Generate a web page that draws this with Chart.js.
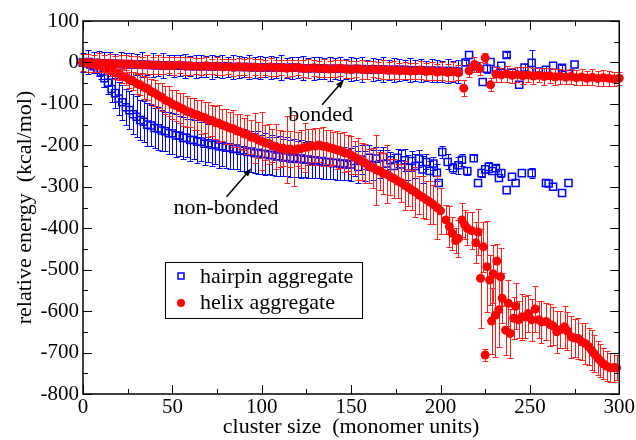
<!DOCTYPE html>
<html lang="en">
<head>
  <meta charset="UTF-8">
  <title>relative energy vs cluster size</title>
  <script src="https://cdn.jsdelivr.net/npm/chart.js"></script>
  <style>
    body { margin: 0; background: #fff; }
    #wrap { width: 636px; height: 440px; }
    #fontprobe { position: absolute; left: -999px; font-family: "Liberation Serif"; }
  </style>
</head>
<body>
  <div id="wrap"><canvas id="energyChart" width="636" height="440"></canvas></div>
  <span id="fontprobe">relative energy 0123456789</span>
  <script>
    // helix aggregate, bonded part (upper band)
    const helixBondedX = [0,3,6,9,12,15,18,21,24,27,30,33,36,39,42,45,48,51,54,57,60,63,66,69,72,75,78,81,84,87,90,93,96,99,102,105,108,111,114,117,120,123,126,129,132,135,138,141,144,147,150,153,156,159,162,165,168,171,174,177,180,183,186,189,192,195,198,201,204,207,210,213,216,219,222,225,228,231,234,237,240,243,246,249,252,255,258,261,264,267,270,273,276,279,282,285,288,291,294,297,300];
    const helixBondedY = [0,-1,-2,-1,-3,-2,-4,-3,-5,-4,
      -5,-6,-5,-7,-6,-8,-7,-8,-6,-9,
      -8,-9,-10,-8,-10,-9,-11,-10,-12,-10,
      -11,-12,-11,-13,-12,-11,-13,-12,-14,-13,
      -12,-14,-15,-13,-15,-14,-16,-15,-14,-16,
      -17,-15,-17,-18,-16,-18,-17,-19,-18,-20,
      -19,-21,-20,-18,-22,-20,-23,-21,-24,-22,
      -25,-62,-20,-5,-15,11,-54,-28,-30,-27,
      -31,-29,-32,-30,-33,-31,-34,-32,-35,-33,
      -36,-34,-37,-35,-38,-36,-39,-37,-38,-40,
      -38];
    const helixBondedErr = [20,22,21,23,20,22,19,21,23,20,
      21,19,22,20,23,21,19,22,20,21,
      22,19,21,20,18,22,20,19,21,20,
      19,22,20,21,19,22,20,18,21,20,
      19,21,23,20,19,22,20,21,19,22,
      20,19,22,21,20,19,22,20,21,19,
      21,20,19,21,20,22,19,21,20,22,
      18,20,16,18,15,12,16,18,17,19,
      18,17,20,18,19,17,20,18,19,18,
      17,19,18,20,17,19,18,19,18,17,
      16];

    // helix aggregate, non-bonded part (lower curve)
    const helixNonBondedX = [0,2,4,6,8,10,12,14,16,18,20,22,24,26,28,30,32,34,36,38,40,42,44,46,48,50,52,54,56,58,60,62,64,66,68,70,72,74,76,78,80,82,84,86,88,90,92,94,96,98,100,102,104,106,108,110,112,114,116,118,120,122,124,126,128,130,132,134,136,138,140,142,144,146,148,150,152,154,156,158,160,162,164,166,168,170,172,174,176,178,180,182,184,186,188,190,192,194,196,198,200,
      203,205,206.5,208.5,210,212,213.5,215,217.5,219.8,221,222.4,224,225,226,227.5,228.6,229.5,230.7,231.5,232.6,233.6,234.5,236.4,238,239,241,242,243.7,245.5,247.5,249,251,253,255,256.5,259,261.5,263,265,267,269.4,271,273,275,277,279,281,283,284.5,286,288,289.5,291,293,295,297,298.5];
    const helixNonBondedY = [0,-1,-3,-4,-8,-9,-13,-17,-20,-25,
      -27,-33,-36,-42,-45,-51,-54,-60,-63,-70,
      -74,-80,-84,-91,-94,-101,-104,-109,-113,-118,
      -120,-125,-127,-131,-133,-138,-140,-145,-147,-151,
      -154,-158,-160,-165,-167,-172,-174,-180,-182,-187,
      -190,-194,-196,-201,-203,-207,-207,-210,-209,-212,
      -209,-208,-205,-204,-201,-202,-199,-202,-203,-206,
      -208,-211,-213,-217,-219,-224,-229,-233,-239,-243,
      -250,-254,-259,-262,-268,-270,-276,-280,-286,-290,
      -297,-302,-308,-313,-320,-325,-331,-337,-343,-350,
      -358,
      -380,-396,-412,-430,-425,-380,-392,-400,-406,-435,-409,-521,-445,-706,-493,-525,-624,-510,-610,-479,-597,-517,-569,-646,-581,-654,-617,-588,-621,-614,-614,-606,-621,-595,-621,-626,-625,-633,-636,-650,-645,-638,-648,-662,-665,-666,-674,-678,-686,-694,-703,-713,-720,-727,-733,-737,-736,-737];
    const helixNonBondedErr = [2,3,4,5,6,8,9,10,12,14,
      15,17,18,20,22,24,25,27,28,30,
      32,30,34,33,36,35,38,36,40,37,
      35,39,36,41,38,42,37,40,44,39,
      42,38,45,40,43,39,46,41,60,44,
      70,42,48,40,55,45,42,80,44,85,
      42,46,60,43,40,45,42,47,41,44,
      40,45,42,48,43,46,40,50,44,47,
      42,48,85,45,50,70,44,48,42,46,
      60,44,48,60,45,50,46,52,48,75,
      55,
      35,50,40,30,45,40,35,40,45,50,55,120,60,15,110,60,80,70,100,40,90,70,60,60,55,60,50,55,45,55,50,45,50,55,45,50,45,50,45,50,45,50,45,50,45,50,45,50,45,48,45,42,40,38,36,35,34,30];

    // hairpin aggregate, bonded part (upper band, mostly under the red one)
    const hairpinBondedX = [0,3,6,9,12,15,18,21,24,27,30,33,36,39,42,45,48,51,54,57,60,63,66,69,72,75,78,81,84,87,90,93,96,99,102,105,108,111,114,117,120,123,126,129,132,135,138,141,144,147,150,153,156,159,162,165,168,171,174,177,180,183,186,189,192,195,198,201,204,207,210,
      214,216,220,223.6,226,228,231,234,237,240,244,247,251,255,259,263,268,272,275];
    const hairpinBondedY = [0,1,-1,-2,-2,-3,-3,-4,-4,-5,
      -5,-5,-6,-6,-7,-7,-7,-8,-8,-8,
      -9,-9,-9,-9,-10,-10,-10,-10,-11,-11,
      -11,-11,-12,-12,-12,-12,-12,-13,-13,-13,
      -13,-14,-14,-14,-14,-15,-15,-15,-15,-16,
      -16,-16,-16,-17,-17,-17,-17,-18,-18,-18,
      -18,-19,-19,-19,-20,-20,-20,-21,-21,-21,
      -22,
      0,18,-10,-47,-15,1,-20,-8,18,-25,-54,-12,-1,-22,-18,-8,-13,-28,-5];
    const hairpinBondedErr = [22,28,25,30,26,29,24,30,27,28,
      25,29,24,28,26,30,24,27,25,29,
      24,28,26,25,29,25,27,24,28,26,
      25,29,25,27,24,28,26,30,24,27,
      25,29,24,28,26,25,29,25,27,24,
      28,26,30,24,27,25,29,24,28,26,
      25,29,25,27,24,28,26,25,29,25,
      27,
      5,0,12,0,10,0,8,0,6,10,0,8,30,0,10,0,6,0,0];

    // hairpin aggregate, non-bonded part (lower curve)
    const hairpinNonBondedX = [0,2,4,6,8,10,12,14,16,18,20,22,24,26,28,30,32,34,36,38,40,42,44,46,48,50,52,54,56,58,60,62,64,66,68,70,72,74,76,78,80,82,84,86,88,90,92,94,96,98,100,102,104,106,108,110,112,114,116,118,120,122,124,126,128,130,132,134,136,138,140,142,144,146,148,150,152,154,156,158,160,162,164,166,168,170,172,174,176,178,180,182,184,186,188,190,192,194,196,198,
      199,201,204,207,210,212,215,218.6,221,223,225,227,229,231,232.7,234,237,240,242,245.5,251,259,260.5,263,268,271.6];
    const hairpinNonBondedY = [0,-2,-5,-9,-15,-24,-38,-49,-64,-74,
      -87,-96,-108,-115,-125,-131,-139,-143,-150,-152,
      -158,-159,-164,-166,-171,-171,-176,-177,-182,-182,
      -187,-187,-191,-191,-196,-195,-199,-198,-203,-202,
      -206,-205,-209,-208,-213,-212,-216,-215,-219,-218,
      -221,-221,-224,-223,-227,-226,-229,-228,-232,-230,
      -233,-232,-235,-234,-237,-236,-239,-238,-241,-240,
      -243,-242,-245,-244,-247,-246,-238,-252,-235,-250,
      -230,-248,-232,-246,-228,-244,-236,-250,-230,-246,
      -236,-254,-238,-250,-232,-258,-240,-262,-244,-266,
      -291,-216,-240,-255,-248,-235,-262,-231,-291,-267,-258,-252,-262,-255,-279,-267,-308,-276,-291,-267,-267,-291,-292,-300,-315,-291];
    const hairpinNonBondedErr = [0,2,3,6,10,16,22,28,32,36,
      40,42,44,46,48,50,48,50,52,50,
      48,52,50,47,51,49,52,48,50,46,
      50,47,51,48,52,46,50,48,51,47,
      49,52,47,50,48,51,46,50,48,52,
      47,50,45,49,46,48,44,47,45,46,
      43,46,42,45,41,44,40,43,40,42,
      39,41,38,40,37,39,36,38,35,37,
      30,36,28,34,25,32,20,30,22,35,
      26,30,24,28,20,32,18,25,15,20,
      0,15,18,12,20,15,10,8,0,10,0,12,0,8,0,10,0,0,0,0,12,0,0,0,0,0];

    // axis ticks
    const xTicks = [0, 50, 100, 150, 200, 250, 300];
    const yTicks = [100, 0, -100, -200, -300, -400, -500, -600, -700, -800];

    const serif = '"Liberation Serif", "Times New Roman", "DejaVu Serif", serif';

    function toPoints(xs, ys) {
      return xs.map((x, i) => ({ x: x, y: ys[i] }));
    }

    // vertical error bars with caps, drawn just under each dataset's markers
    const errorBars = {
      id: 'errorBars',
      beforeDatasetDraw(chart, args) {
        const ds = chart.data.datasets[args.index];
        if (!ds.errors) return;
        const yScale = chart.scales.y;
        const ctx = chart.ctx;
        ctx.save();
        ctx.strokeStyle = ds.errorColor;
        ctx.lineWidth = 1;
        ctx.beginPath();
        args.meta.data.forEach((pt, i) => {
          const e = ds.errors[i];
          if (!e) return;
          const v = ds.data[i].y;
          const top = Math.round(yScale.getPixelForValue(v + e)) + 0.5;
          const bot = Math.round(yScale.getPixelForValue(v - e)) + 0.5;
          const x = Math.round(pt.x) + 0.5;
          ctx.moveTo(x, top); ctx.lineTo(x, bot);
          ctx.moveTo(x - 3, top); ctx.lineTo(x + 3, top);
          ctx.moveTo(x - 3, bot); ctx.lineTo(x + 3, bot);
        });
        ctx.stroke();
        ctx.restore();
      }
    };

    // frame with inward ticks on all four sides
    const frameTicks = {
      id: 'frameTicks',
      afterDraw(chart) {
        const { ctx, chartArea: a, scales: { x, y } } = chart;
        ctx.save();
        ctx.strokeStyle = '#000';
        ctx.lineWidth = 1.5;
        ctx.strokeRect(a.left, a.top, a.right - a.left, a.bottom - a.top);
        ctx.lineWidth = 1;
        ctx.beginPath();
        for (let v = 0; v <= 300; v += 25) {
          const px = Math.round(x.getPixelForValue(v)) + 0.5;
          const len = v % 50 === 0 ? 9 : 5;
          ctx.moveTo(px, a.bottom); ctx.lineTo(px, a.bottom - len);
          ctx.moveTo(px, a.top); ctx.lineTo(px, a.top + len);
        }
        for (let v = -800; v <= 100; v += 50) {
          const py = Math.round(y.getPixelForValue(v)) + 0.5;
          const len = v % 100 === 0 ? 9 : 5;
          ctx.moveTo(a.left, py); ctx.lineTo(a.left + len, py);
          ctx.moveTo(a.right, py); ctx.lineTo(a.right - len, py);
        }
        ctx.stroke();
        ctx.restore();
      }
    };

    function arrow(ctx, x1, y1, x2, y2) {
      const ang = Math.atan2(y2 - y1, x2 - x1);
      ctx.beginPath();
      ctx.moveTo(x1, y1);
      ctx.lineTo(x2 - 6 * Math.cos(ang), y2 - 6 * Math.sin(ang));
      ctx.stroke();
      ctx.beginPath();
      ctx.moveTo(x2, y2);
      ctx.lineTo(x2 - 9 * Math.cos(ang - 0.35), y2 - 9 * Math.sin(ang - 0.35));
      ctx.lineTo(x2 - 9 * Math.cos(ang + 0.35), y2 - 9 * Math.sin(ang + 0.35));
      ctx.closePath();
      ctx.fill();
    }

    // labels, arrows and the boxed legend
    const annotations = {
      id: 'annotations',
      afterDraw(chart) {
        const { ctx, chartArea: a, scales: { x, y } } = chart;
        ctx.save();
        ctx.fillStyle = '#000';
        ctx.strokeStyle = '#000';
        ctx.lineWidth = 1.5;
        ctx.font = '22px ' + serif;
        ctx.textAlign = 'center';
        ctx.textBaseline = 'middle';
        ctx.fillText('bonded', x.getPixelForValue(133), y.getPixelForValue(-127));
        ctx.fillText('non-bonded', x.getPixelForValue(80), y.getPixelForValue(-351));
        arrow(ctx, x.getPixelForValue(133.8), y.getPixelForValue(-102), x.getPixelForValue(146), y.getPixelForValue(-42));
        arrow(ctx, x.getPixelForValue(80.3), y.getPixelForValue(-324), x.getPixelForValue(94.2), y.getPixelForValue(-255));

        // legend box
        const bx = a.left + 82, by = a.top + 241, bw = 197, bh = 56;
        ctx.fillStyle = '#fff';
        ctx.fillRect(bx, by, bw, bh);
        ctx.lineWidth = 1;
        ctx.strokeRect(bx + 0.5, by + 0.5, bw, bh);
        ctx.textAlign = 'left';
        ctx.strokeStyle = '#0000ff';
        ctx.lineWidth = 1.5;
        ctx.strokeRect(bx + 13, by + 11, 6, 6);
        ctx.fillStyle = '#ff0000';
        ctx.beginPath();
        ctx.arc(bx + 16, by + 41, 4, 0, Math.PI * 2);
        ctx.fill();
        ctx.fillStyle = '#000';
        ctx.fillText('hairpin aggregate', bx + 35, by + 15);
        ctx.fillText('helix aggregate', bx + 35, by + 41);
        ctx.restore();
      }
    };

    function blueSet(xs, ys, errs) {
      return {
        data: toPoints(xs, ys), errors: errs, errorColor: '#0000ff',
        pointStyle: 'rect', pointRadius: 5, borderWidth: 1.5,
        borderColor: '#0000ff', backgroundColor: 'rgba(0,0,0,0)', clip: false
      };
    }
    function redSet(xs, ys, errs) {
      return {
        data: toPoints(xs, ys), errors: errs, errorColor: '#ff2020',
        pointStyle: 'circle', pointRadius: 4.5, borderWidth: 0,
        borderColor: '#ff0000', backgroundColor: '#ff0000', clip: false
      };
    }

    function drawChart() {
      const tickFont = { family: serif, size: 21 };
      const titleFont = { family: serif, size: 22 };

      new Chart(document.getElementById('energyChart'), {
        type: 'scatter',
        data: {
          // first dataset is painted last, so red sits on top of blue
          datasets: [
            redSet(helixBondedX, helixBondedY, helixBondedErr),
            redSet(helixNonBondedX, helixNonBondedY, helixNonBondedErr),
            blueSet(hairpinBondedX, hairpinBondedY, hairpinBondedErr),
            blueSet(hairpinNonBondedX, hairpinNonBondedY, hairpinNonBondedErr)
          ]
        },
        options: {
          responsive: false,
          animation: false,
          devicePixelRatio: 1,
          layout: { padding: { left: 0, right: 15, top: 21, bottom: 0 } },
          plugins: { legend: { display: false }, tooltip: { enabled: false } },
          scales: {
            x: {
              type: 'linear', min: 0, max: 300,
              afterFit(scale) { scale.height = 46; },
              afterBuildTicks(scale) { scale.ticks = xTicks.map(v => ({ value: v })); },
              ticks: { color: '#000', font: tickFont, padding: 1, maxRotation: 0 },
              grid: { display: false, drawTicks: false },
              border: { display: false },
              title: { display: true, text: 'cluster size  (monomer units)', color: '#000', font: titleFont, padding: { top: 0, bottom: 0 } }
            },
            y: {
              type: 'linear', min: -800, max: 100,
              afterFit(scale) { scale.width = 83; },
              afterBuildTicks(scale) { scale.ticks = yTicks.map(v => ({ value: v })); },
              ticks: { color: '#000', font: tickFont, padding: 4 },
              grid: { display: false, drawTicks: false },
              border: { display: false },
              title: { display: true, text: 'relative energy  (kcal/mol)', color: '#000', font: titleFont, padding: { top: 12, bottom: 0 } }
            }
          }
        },
        plugins: [errorBars, frameTicks, annotations]
      });
    }

    // make sure the serif face is ready before the canvas paints text
    document.fonts.load('22px "Liberation Serif"').then(drawChart, drawChart);
  </script>
</body>
</html>
